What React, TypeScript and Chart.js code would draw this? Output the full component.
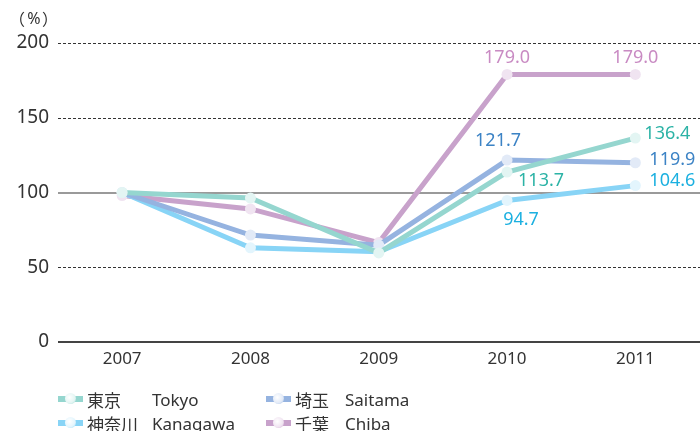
import React, { useEffect, useRef } from "react";
import { Chart, registerables } from "chart.js";

Chart.register(...registerables);

const categories = ["2007", "2008", "2009", "2010", "2011"];
const tokyo = [100, 96.3, 59.6, 113.7, 136.4];
const saitama = [100, 71.5, 64.8, 121.7, 119.9];
const kanagawa = [100, 63.0, 60.3, 94.7, 104.6];
const chiba = [98.0, 89.0, 66.5, 179.0, 179.0];
const yTicks = [0, 50, 100, 150, 200];

const FONT = "'Noto Sans', 'Noto Sans CJK JP', sans-serif";
const CJK = "'Noto Sans CJK JP', sans-serif";

const series = [
  { name: "東京", en: "Tokyo", data: tokyo, line: "#95d6cf", point: "#e3f5f3", text: "#2cb3a6", order: 1 },
  { name: "埼玉", en: "Saitama", data: saitama, line: "#95b3e0", point: "#e2eaf7", text: "#3c83c5", order: 2 },
  { name: "神奈川", en: "Kanagawa", data: kanagawa, line: "#88d4f6", point: "#e3f5fd", text: "#1cb0e0", order: 3 },
  { name: "千葉", en: "Chiba", data: chiba, line: "#c8a2cb", point: "#f0e4f1", text: "#c98bc3", order: 4 },
];

// label placement: [seriesIndex, pointIndex, dx, dy, align]
const labelSpecs: [number, number, number, number, CanvasTextAlign][] = [
  [3, 3, 0, -17, "center"],
  [3, 4, 0, -17, "center"],
  [1, 3, -9, -19, "center"],
  [1, 4, 14, -3, "left"],
  [0, 3, 34, 9, "center"],
  [0, 4, 9, -4, "left"],
  [2, 3, 14, 19, "center"],
  [2, 4, 14, -5, "left"],
];

const gridPlugin = {
  id: "customGrid",
  beforeDatasetsDraw(chart: any) {
    const { ctx, chartArea, scales } = chart;
    const y = scales.y;
    ctx.save();
    yTicks.forEach((v) => {
      const py = Math.round(y.getPixelForValue(v));
      ctx.beginPath();
      if (v === 0) {
        ctx.strokeStyle = "#444";
        ctx.lineWidth = 2;
        ctx.setLineDash([]);
      } else if (v === 100) {
        ctx.strokeStyle = "#9a9a9a";
        ctx.lineWidth = 2;
        ctx.setLineDash([]);
      } else {
        ctx.strokeStyle = "#333";
        ctx.lineWidth = 1;
        ctx.setLineDash([3, 2]);
      }
      const off = ctx.lineWidth === 1 ? 0.5 : 0;
      ctx.moveTo(chartArea.left, py + off);
      ctx.lineTo(chart.width, py + off);
      ctx.stroke();
    });
    ctx.restore();
  },
  afterDraw(chart: any) {
    const { ctx } = chart;
    ctx.save();
    ctx.fillStyle = "#333";
    ctx.textBaseline = "middle";
    ctx.font = `16px ${CJK}`;
    ctx.textAlign = "left";
    ctx.fillText("（", 9, 19);
    ctx.fillText("）", 42, 19);
    ctx.font = `16px ${FONT}`;
    ctx.textAlign = "center";
    ctx.fillText("%", 34, 19);
    ctx.restore();
  },
};

const labelPlugin = {
  id: "valueLabels",
  afterDatasetsDraw(chart: any) {
    const { ctx } = chart;
    ctx.save();
    ctx.font = `18px ${FONT}`;
    ctx.textBaseline = "middle";
    labelSpecs.forEach(([si, pi, dx, dy, align]) => {
      const meta = chart.getDatasetMeta(si);
      const el = meta.data[pi];
      if (!el) return;
      ctx.fillStyle = series[si].text;
      ctx.textAlign = align;
      ctx.fillText(series[si].data[pi].toFixed(1), el.x + dx, el.y + dy);
    });
    ctx.restore();
  },
};

function LegendItem({ s, x, y, nameWidth }: { s: any; x: number; y: number; nameWidth: number }) {
  return (
    <div style={{ position: "absolute", left: x, top: y - 13, height: 26, display: "flex", alignItems: "center", fontFamily: FONT, fontSize: 17, color: "#333", whiteSpace: "nowrap" }}>
      <div style={{ position: "relative", width: 25, height: 6, background: s.line, marginRight: 4 }}>
        <div style={{ position: "absolute", left: 7, top: -3, width: 11, height: 11, borderRadius: "50%", background: `radial-gradient(circle at 40% 40%, #ffffff, ${s.point} 60%, ${s.line})` }} />
      </div>
      <span style={{ display: "inline-block", width: nameWidth, fontSize: 17 }}>{s.name}</span>
      <span>{s.en}</span>
    </div>
  );
}

const CANVAS_W = 705;

export default function App() {
  const ref = useRef<HTMLCanvasElement>(null);
  useEffect(() => {
    if (!ref.current) return;
    const chart = new Chart(ref.current, {
      type: "line",
      data: {
        labels: categories,
        datasets: series.map((s) => ({
          label: s.name,
          data: s.data,
          borderColor: s.line,
          backgroundColor: s.line,
          borderWidth: 5,
          pointRadius: 5.5,
          pointBackgroundColor: s.point,
          pointBorderColor: s.line,
          pointBorderWidth: 0,
          tension: 0,
          order: s.order,
        })),
      },
      options: {
        animation: false,
        responsive: false,
        maintainAspectRatio: false,
        layout: { padding: { top: 43, left: 0, right: 0, bottom: 0 } },
        plugins: { legend: { display: false }, tooltip: { enabled: false }, title: { display: false } },
        scales: {
          x: {
            type: "category",
            offset: true,
            grid: { display: false, drawTicks: false },
            border: { display: false },
            ticks: { color: "#333", font: { family: FONT, size: 17 }, padding: 7 },
            afterFit: (scale: any) => { scale.height = 89; },
          },
          y: {
            min: 0,
            max: 200,
            grid: { display: false, drawTicks: false },
            border: { display: false },
            ticks: { stepSize: 50, color: "#333", font: { family: FONT, size: 19 }, padding: 9 },
            afterFit: (scale: any) => { scale.width = 58; },
          },
        },
      },
      plugins: [gridPlugin, labelPlugin],
    });
    return () => chart.destroy();
  }, []);

  return (
    <div style={{ position: "fixed", left: 0, top: 0, width: 700, height: 431, background: "#fff", overflow: "hidden" }}>
      <canvas ref={ref} width={CANVAS_W} height={431} style={{ position: "absolute", left: 0, top: 0, width: CANVAS_W, height: 431 }} />
      <LegendItem s={series[0]} x={58} y={399} nameWidth={65} />
      <LegendItem s={series[1]} x={266} y={399} nameWidth={50} />
      <LegendItem s={series[2]} x={58} y={423} nameWidth={65} />
      <LegendItem s={series[3]} x={266} y={423} nameWidth={50} />
    </div>
  );
}
